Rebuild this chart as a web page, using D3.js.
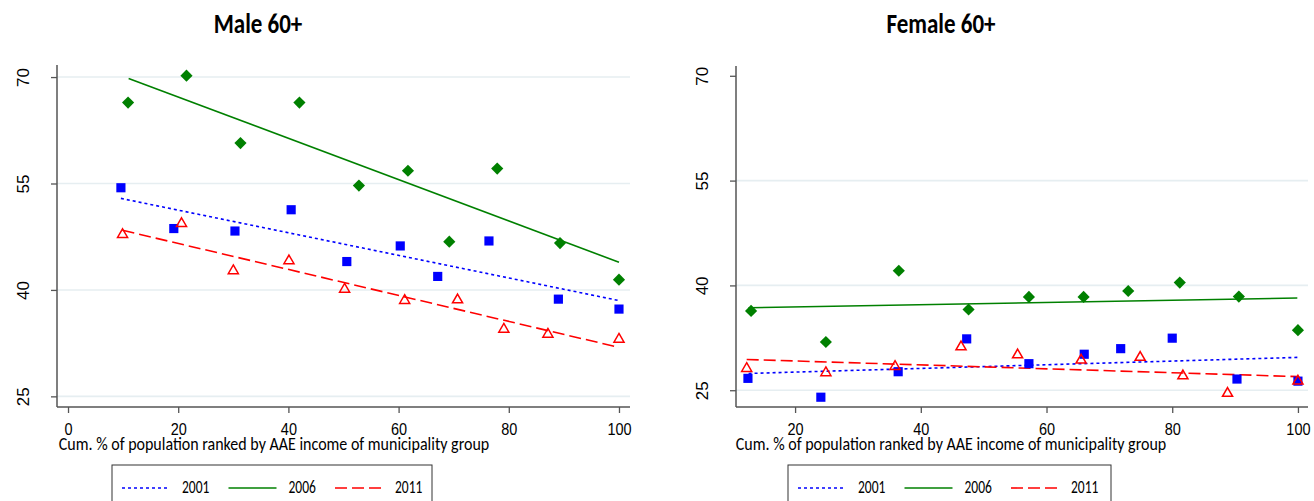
<!DOCTYPE html>
<html>
<head>
<meta charset="utf-8">
<script src="https://cdn.jsdelivr.net/npm/d3@7"></script>
<style>
  body { margin: 0; background: #fff; }
  svg { display: block; font-family: Carlito, Lato, "Open Sans", sans-serif; }
</style>
</head>
<body>
<div id="chart"></div>
<script>
// series values
const years = ["2001", "2006", "2011"];

const maleX2001 = [9.6, 19.2, 30.3, 40.5, 50.6, 60.3, 67.1, 76.4, 89.0, 100];
const maleY2001 = [54.4, 48.65, 48.3, 51.3, 44.0, 46.2, 41.9, 46.9, 38.7, 37.3];
const maleX2006 = [10.9, 21.5, 31.3, 42.0, 52.8, 61.7, 69.2, 77.9, 89.3, 100];
const maleY2006 = [66.4, 70.2, 60.7, 66.4, 54.7, 56.8, 46.8, 57.1, 46.6, 41.45];
const maleX2011 = [9.9, 20.6, 30.0, 40.1, 50.2, 61.1, 70.7, 79.1, 87.1, 100];
const maleY2011 = [47.8, 49.35, 42.7, 44.1, 40.1, 38.5, 38.6, 34.45, 33.75, 33.05];
// fitted lines: [x, y] at both ends
const maleFit2001 = [[9.6, 52.9], [100, 38.5]];
const maleFit2006 = [[11.0, 69.8], [100, 43.9]];
const maleFit2011 = [[9.9, 48.4], [100, 31.9]];

const femX2001 = [12.5, 24.1, 36.4, 47.3, 57.2, 66.0, 71.8, 80.0, 90.3, 100];
const femY2001 = [26.7, 24.0, 27.65, 32.35, 28.8, 30.15, 30.95, 32.45, 26.6, 26.3];
const femX2006 = [13.0, 24.9, 36.5, 47.6, 57.2, 65.9, 73.0, 81.2, 90.6, 100];
const femY2006 = [36.35, 31.9, 42.1, 36.55, 38.35, 38.35, 39.2, 40.4, 38.4, 33.6];
const femX2011 = [12.3, 24.9, 35.9, 46.4, 55.4, 65.5, 74.9, 81.7, 88.8, 100];
const femY2011 = [28.1, 27.5, 28.4, 31.2, 30.05, 29.3, 29.7, 27.05, 24.55, 26.3];
const femFit2001 = [[12.6, 27.4], [100, 29.7]];
const femFit2006 = [[12.6, 36.8], [99.9, 38.2]];
const femFit2011 = [[12.3, 29.4], [100, 26.95]];

const yTicks = [25, 40, 55, 70];
const maleXTicks = [0, 20, 40, 60, 80, 100];
const femXTicks = [20, 40, 60, 80, 100];
const xTitle = "Cum. % of population ranked by AAE income of municipality group";

const W = 1314, H = 501;
const colors = { "2001": "#0000ff", "2006": "#008000", "2011": "#ff0000" };
const dashes = { "2001": "3,3", "2006": null, "2011": "12,5" };

const svg = d3.select("#chart").append("svg")
  .attr("width", W).attr("height", H);

// text in the reference is a bit stretched vertically
function stretched(sel, x, y, sy) {
  return sel.attr("x", 0).attr("y", 0)
    .attr("transform", `translate(${x},${y}) scale(1,${sy})`);
}

function panel(cfg) {
  const x = d3.scaleLinear().domain(cfg.xDomain).range([cfg.left, cfg.right]);
  const y = d3.scaleLinear().domain(cfg.yDomain).range([cfg.bottom, cfg.top]);
  const g = svg.append("g");

  // title
  g.append("text")
    .call(stretched, cfg.titleX, 33, 1.2)
    .attr("text-anchor", "middle")
    .style("font-weight", "bold").style("font-size", "23px")
    .text(cfg.title);

  // gridlines
  g.selectAll(".grid").data(cfg.grid).join("line")
    .attr("x1", cfg.left).attr("x2", cfg.right)
    .attr("y1", d => y(d)).attr("y2", d => y(d))
    .attr("stroke", "#e6eef1").attr("stroke-width", 1.6);

  // y axis
  const ya = g.append("g").attr("transform", `translate(${cfg.left},0)`)
    .call(d3.axisLeft(y).tickValues(yTicks).tickSize(6).tickSizeOuter(0));
  ya.select(".domain").remove();
  ya.selectAll(".tick line").attr("stroke", "#555").attr("stroke-width", 1.3);
  ya.selectAll(".tick text")
    .attr("x", 0).attr("dy", 0)
    .attr("transform", `translate(-28,0) rotate(-90)`)
    .attr("text-anchor", "middle")
    .attr("fill", "#000").style("font-size", "17px");
  g.append("line")
    .attr("x1", cfg.left).attr("x2", cfg.left)
    .attr("y1", cfg.top).attr("y2", cfg.bottom)
    .attr("stroke", "#555").attr("stroke-width", 1.5);

  // x axis
  const xa = g.append("g").attr("transform", `translate(0,${cfg.bottom})`)
    .call(d3.axisBottom(x).tickValues(cfg.xTicks).tickSize(6).tickSizeOuter(0));
  xa.select(".domain").remove();
  xa.selectAll(".tick line").attr("stroke", "#555").attr("stroke-width", 1.3);
  xa.selectAll(".tick text")
    .attr("dy", 0)
    .call(stretched, 0, 28, 1.12)
    .attr("fill", "#000").style("font-size", "14.5px");
  g.append("line")
    .attr("x1", cfg.left).attr("x2", cfg.right)
    .attr("y1", cfg.bottom).attr("y2", cfg.bottom)
    .attr("stroke", "#555").attr("stroke-width", 1.5);

  g.append("text")
    .call(stretched, cfg.xTitleX, 450, 1.08)
    .attr("text-anchor", "middle")
    .style("font-size", "16px")
    .text(xTitle);

  // fitted lines
  const line = d3.line().x(d => x(d[0])).y(d => y(d[1]));
  years.forEach(yr => {
    g.append("path")
      .datum(cfg.fits[yr])
      .attr("d", line)
      .attr("fill", "none")
      .attr("stroke", colors[yr])
      .attr("stroke-width", 1.6)
      .attr("stroke-dasharray", dashes[yr]);
  });

  // markers
  const pts = yr => cfg.xs[yr].map((v, i) => [v, cfg.ys[yr][i]]);

  g.selectAll(".m2006").data(pts("2006")).join("path")
    .attr("d", d3.symbol().type(d3.symbolSquare).size(74)())
    .attr("transform", d => `translate(${x(d[0])},${y(d[1])}) rotate(45)`)
    .attr("fill", colors["2006"]);
  g.selectAll(".m2001").data(pts("2001")).join("path")
    .attr("d", d3.symbol().type(d3.symbolSquare).size(84)())
    .attr("transform", d => `translate(${x(d[0])},${y(d[1])})`)
    .attr("fill", colors["2001"]);
  g.selectAll(".m2011").data(pts("2011")).join("path")
    .attr("d", d3.symbol().type(d3.symbolTriangle).size(44)())
    .attr("transform", d => `translate(${x(d[0])},${y(d[1])})`)
    .attr("fill", "none")
    .attr("stroke", colors["2011"])
    .attr("stroke-width", 1.5);

  // legend
  const lg = g.append("g");
  lg.append("rect")
    .attr("x", cfg.legX).attr("y", 465)
    .attr("width", cfg.legW).attr("height", 60)
    .attr("fill", "#fff").attr("stroke", "#333").attr("stroke-width", 1);
  years.forEach((yr, i) => {
    const lx = cfg.legX + 10 + i * 106.5;
    lg.append("line")
      .attr("x1", lx).attr("x2", lx + 48)
      .attr("y1", 488).attr("y2", 488)
      .attr("stroke", colors[yr]).attr("stroke-width", 1.6)
      .attr("stroke-dasharray", dashes[yr]);
    lg.append("text")
      .call(stretched, lx + 60, 493, 1.3)
      .style("font-size", "13.5px")
      .text(yr);
  });
}

panel({
  title: "Male 60+", titleX: 258,
  left: 57, right: 630, top: 65, bottom: 407,
  xDomain: [-2, 102], yDomain: [23.5, 71.7],
  xTicks: maleXTicks, grid: [25, 40, 55, 70], xTitleX: 274,
  xs: { "2001": maleX2001, "2006": maleX2006, "2011": maleX2011 },
  ys: { "2001": maleY2001, "2006": maleY2006, "2011": maleY2011 },
  fits: { "2001": maleFit2001, "2006": maleFit2006, "2011": maleFit2011 },
  legX: 112, legW: 320
});

panel({
  title: "Female 60+", titleX: 941,
  left: 736, right: 1308, top: 66, bottom: 407,
  xDomain: [10.6, 101.6], yDomain: [22.6, 71.4],
  xTicks: femXTicks, grid: [25, 40, 55], xTitleX: 951,
  xs: { "2001": femX2001, "2006": femX2006, "2011": femX2011 },
  ys: { "2001": femY2001, "2006": femY2006, "2011": femY2011 },
  fits: { "2001": femFit2001, "2006": femFit2006, "2011": femFit2011 },
  legX: 788, legW: 323
});
</script>
</body>
</html>
